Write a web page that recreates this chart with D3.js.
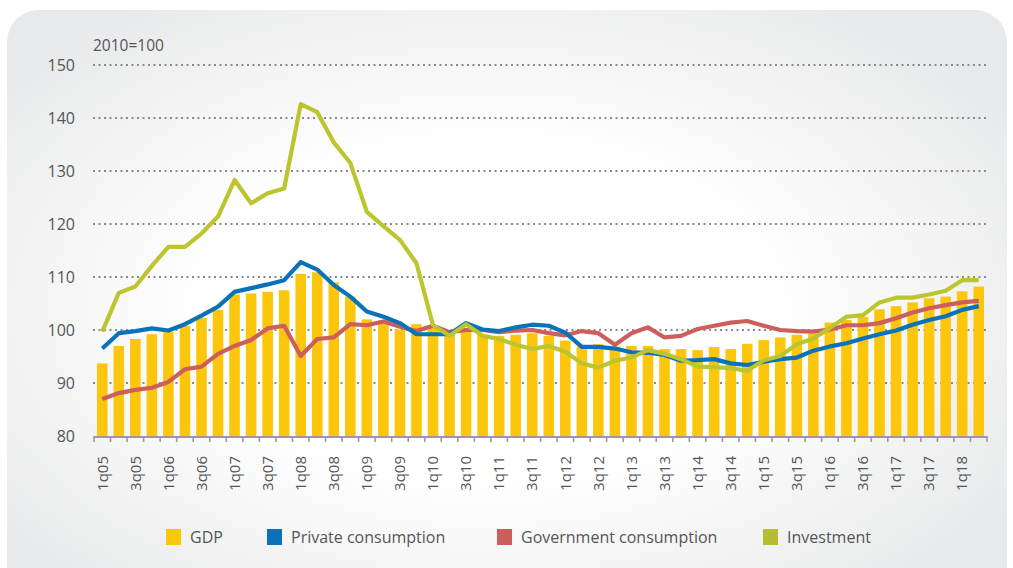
<!DOCTYPE html>
<html>
<head>
<meta charset="utf-8">
<script src="https://cdn.jsdelivr.net/npm/d3@7"></script>
<style>
  html, body { margin: 0; padding: 0; background: #fff; }
  svg { display: block; font-family: "Open Sans", "DejaVu Sans", sans-serif; }
</style>
</head>
<body>
<svg id="chart" width="1013" height="568"></svg>
<script>
// ---- data ----
const quarters = [
  "1q05","2q05","3q05","4q05","1q06","2q06","3q06","4q06",
  "1q07","2q07","3q07","4q07","1q08","2q08","3q08","4q08",
  "1q09","2q09","3q09","4q09","1q10","2q10","3q10","4q10",
  "1q11","2q11","3q11","4q11","1q12","2q12","3q12","4q12",
  "1q13","2q13","3q13","4q13","1q14","2q14","3q14","4q14",
  "1q15","2q15","3q15","4q15","1q16","2q16","3q16","4q16",
  "1q17","2q17","3q17","4q17","1q18","2q18"
];
const gdp = [
  93.7, 97.0, 98.3, 99.2, 99.6, 100.8, 102.3, 103.8,
  106.7, 106.9, 107.2, 107.5, 110.6, 110.9, 109.0, 106.3,
  102.0, 101.8, 100.1, 101.1, 100.6, 100.0, 99.7, 99.1,
  98.9, 99.1, 99.4, 98.9, 98.0, 96.9, 97.3, 96.9,
  97.0, 97.0, 96.4, 96.4, 96.2, 96.8, 96.4, 97.4,
  98.1, 98.6, 99.1, 99.3, 101.4, 101.9, 102.5, 103.9,
  104.5, 105.2, 106.0, 106.3, 107.3, 108.2
];
const privateConsumption = [
  96.5, 99.4, 99.8, 100.3, 99.9, 101.1, 102.7, 104.4,
  107.2, 107.9, 108.6, 109.4, 112.8, 111.4, 108.5, 106.3,
  103.5, 102.5, 101.3, 99.2, 99.2, 99.2, 101.3, 100.1,
  99.8, 100.5, 101.0, 100.8, 99.5, 96.8, 96.8, 96.5,
  95.8, 95.7, 95.3, 94.2, 94.3, 94.5, 93.7, 93.4,
  94.0, 94.5, 94.8, 96.1, 96.9, 97.5, 98.4, 99.2,
  99.9, 101.0, 101.9, 102.6, 103.8, 104.5
];
const governmentConsumption = [
  87.0, 88.1, 88.7, 89.1, 90.2, 92.6, 93.1, 95.5,
  97.0, 98.1, 100.3, 100.8, 95.1, 98.3, 98.6, 101.1,
  100.9, 101.6, 100.6, 99.8, 100.8, 99.6, 100.0, 100.0,
  99.6, 99.9, 100.0, 99.4, 99.0, 99.8, 99.4, 97.2,
  99.4, 100.5, 98.6, 98.9, 100.2, 100.8, 101.4, 101.7,
  100.8, 100.0, 99.8, 99.7, 100.1, 100.9, 100.9, 101.3,
  102.2, 103.3, 104.1, 104.7, 105.2, 105.5
];
const investment = [
  99.7, 107.0, 108.2, 112.1, 115.7, 115.7, 118.2, 121.4,
  128.3, 123.9, 125.8, 126.7, 142.6, 141.1, 135.4, 131.5,
  122.3, 119.6, 117.0, 112.6, 100.9, 98.9, 101.1, 98.9,
  98.3, 97.2, 96.4, 97.0, 95.9, 93.7, 92.9, 94.2,
  94.8, 96.2, 95.5, 94.5, 93.1, 93.0, 92.8, 92.3,
  94.3, 95.1, 97.3, 98.4, 100.4, 102.5, 102.8, 105.2,
  106.1, 106.1, 106.7, 107.4, 109.4, 109.4
];
const yTicks = [80, 90, 100, 110, 120, 130, 140, 150];
const seriesNames = ["GDP", "Private consumption", "Government consumption", "Investment"];
const colors = { gdp: "#fcc60d", priv: "#0a72b9", gov: "#cc5e5c", inv: "#bcc52e" };

// ---- drawing ----
const svg = d3.select("#chart");
const defs = svg.append("defs");
const grad = defs.append("radialGradient").attr("id", "bg")
  .attr("cx", "48%").attr("cy", "50%").attr("r", "62%");
grad.append("stop").attr("offset", "45%").attr("stop-color", "#ffffff");
grad.append("stop").attr("offset", "100%").attr("stop-color", "#e8e9ea");

svg.append("rect").attr("x", 7).attr("y", 10).attr("width", 1000).attr("height", 600)
  .attr("rx", 32).attr("fill", "url(#bg)");

const plotLeft = 94, plotRight = 987, plotTop = 65, plotBottom = 436;
const x = d3.scaleBand().domain(quarters).range([plotLeft, plotRight]).paddingInner(0.36).paddingOuter(0.18);
const y = d3.scaleLinear().domain([80, 150]).range([plotBottom, plotTop]);
const cx = q => x(q) + x.bandwidth() / 2;

// gridlines
svg.append("g").selectAll("line").data(yTicks.filter(t => t > 80)).join("line")
  .attr("x1", plotLeft - 1).attr("x2", plotRight).attr("y1", d => y(d)).attr("y2", d => y(d))
  .attr("stroke", "#8a8a8a").attr("stroke-width", 2).attr("stroke-dasharray", "2,3.5");

// y labels
svg.append("g").selectAll("text").data(yTicks).join("text")
  .attr("x", 75).attr("y", d => y(d)).attr("dy", "0.36em")
  .attr("text-anchor", "end").attr("font-size", 16).attr("fill", "#555")
  .text(d => d);

svg.append("text").attr("x", 93).attr("y", 51).attr("font-size", 15.5).attr("fill", "#555")
  .text("2010=100");

// bars
svg.append("g").selectAll("rect").data(quarters).join("rect")
  .attr("x", q => x(q)).attr("width", x.bandwidth())
  .attr("y", (q, i) => y(gdp[i])).attr("height", (q, i) => plotBottom - y(gdp[i]))
  .attr("fill", colors.gdp);

// lines
const line = d3.line().x((v, i) => cx(quarters[i])).y(v => y(v));
[[governmentConsumption, colors.gov], [privateConsumption, colors.priv], [investment, colors.inv]]
  .forEach(([data, c]) => {
    svg.append("path").datum(data).attr("d", line).attr("fill", "none")
      .attr("stroke", c).attr("stroke-width", 4.2).attr("stroke-linejoin", "round");
  });

// x axis
const step = x.step();
const tickPos = quarters.map(q => x(q) - (step - x.bandwidth()) / 2).concat([plotRight]);
svg.append("line").attr("x1", plotLeft).attr("x2", plotRight).attr("y1", plotBottom + 1).attr("y2", plotBottom + 1)
  .attr("stroke", "#9a9a9a").attr("stroke-width", 2);
svg.append("g").selectAll("line").data(tickPos).join("line")
  .attr("x1", d => d).attr("x2", d => d).attr("y1", plotBottom).attr("y2", plotBottom + 6)
  .attr("stroke", "#9a9a9a").attr("stroke-width", 1.6);

svg.append("g").selectAll("text").data(quarters.filter((q, i) => i % 2 === 0)).join("text")
  .attr("transform", q => `translate(${cx(q)},456) rotate(-90)`)
  .attr("dy", "0.35em").attr("text-anchor", "end")
  .attr("font-size", 15).attr("fill", "#555")
  .text(q => q);

// legend
const legendX = [166, 267, 497, 763];
const legendColors = [colors.gdp, colors.priv, colors.gov, "#b6bd2f"];
const lg = svg.append("g").selectAll("g").data(seriesNames).join("g")
  .attr("transform", (d, i) => `translate(${legendX[i]},529)`);
lg.append("rect").attr("width", 15).attr("height", 16).attr("fill", (d, i) => legendColors[i]);
lg.append("text").attr("x", 24).attr("y", 14).attr("font-size", 16).attr("fill", "#555").text(d => d);
</script>
</body>
</html>
